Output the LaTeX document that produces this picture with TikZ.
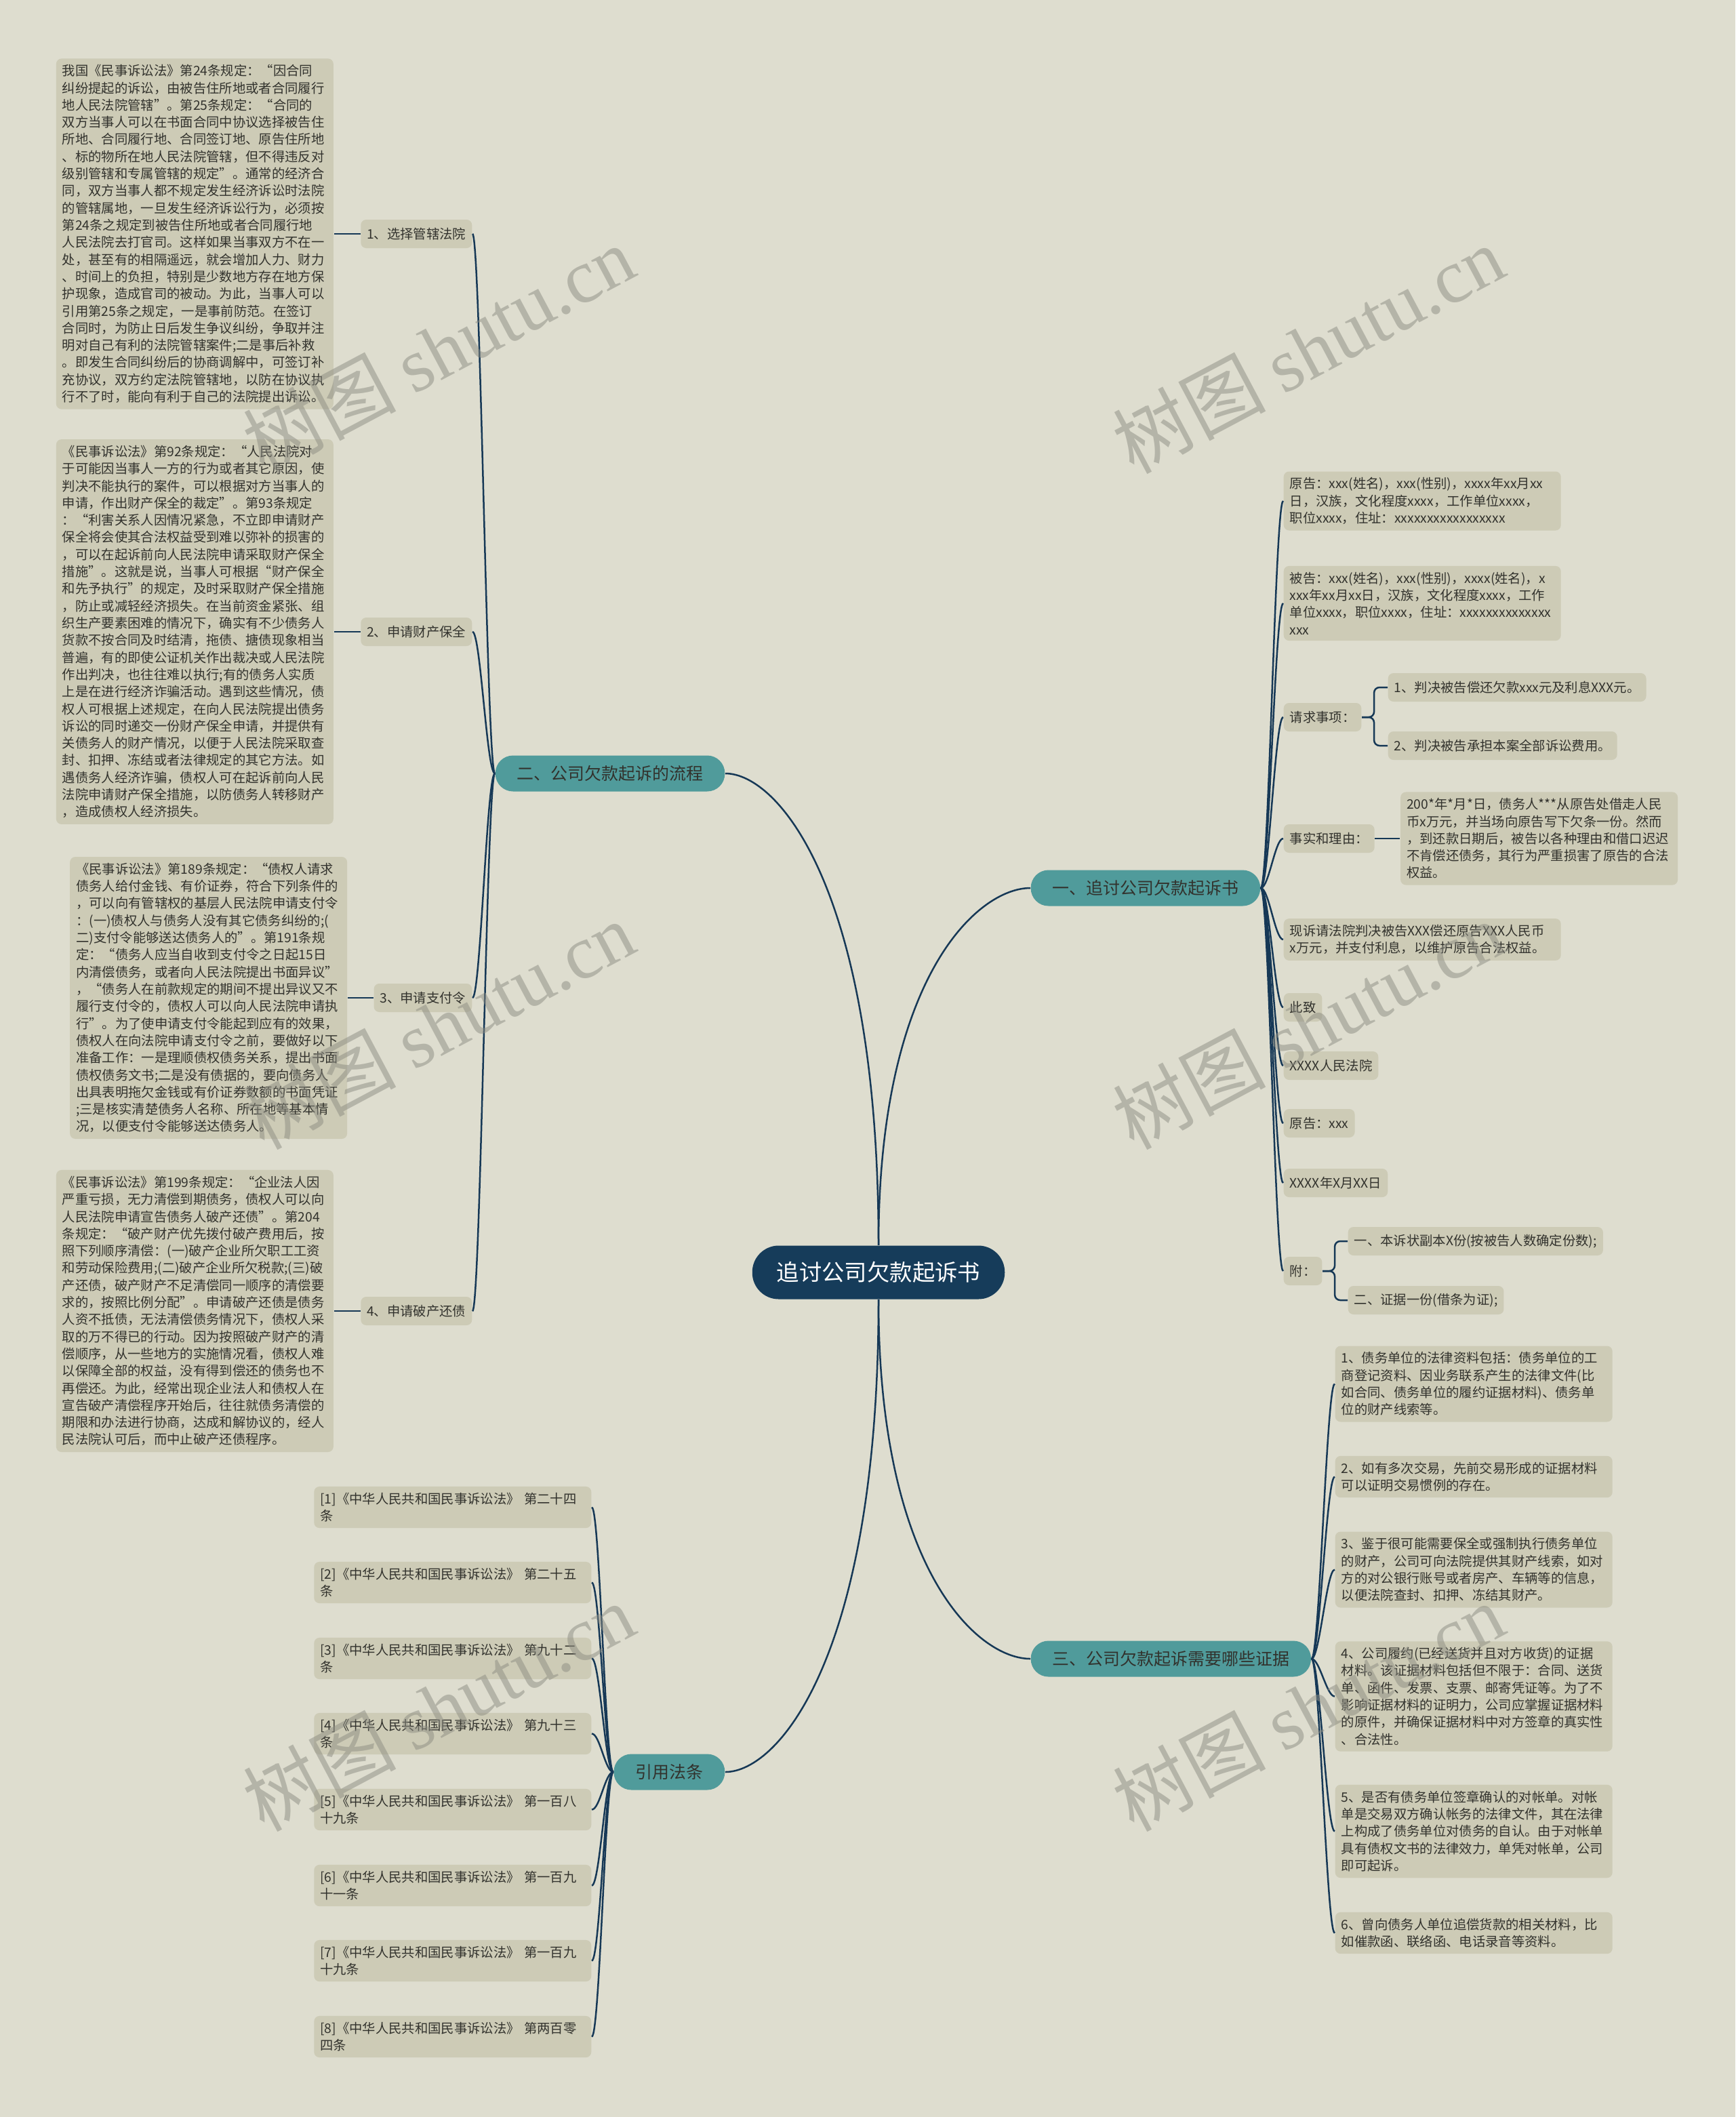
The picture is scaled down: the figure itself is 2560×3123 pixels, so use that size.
\documentclass[tikz,border=0pt]{standalone}
\usepackage{fontspec}
\setmainfont{Noto Sans CJK SC}
\newfontfamily\wmlatin{Liberation Serif}
\usetikzlibrary{positioning}

\definecolor{bgc}{RGB}{222,221,207}
\definecolor{leafc}{RGB}{205,203,182}
\definecolor{tealc}{RGB}{80,155,155}
\definecolor{rootc}{RGB}{22,60,90}
\definecolor{linec}{RGB}{22,56,86}
\definecolor{txtc}{RGB}{50,50,45}
\definecolor{wmc}{RGB}{140,140,130}

\newcommand{\leaffont}{\fontsize{5.5pt}{7.2pt}\selectfont}
\newcommand{\branchfont}{\fontsize{7.1pt}{8.5pt}\selectfont}
\newcommand{\rootfont}{\fontsize{9.5pt}{11pt}\selectfont}
\newcommand{\wmfont}{\fontsize{32pt}{34pt}\selectfont}

\begin{document}
\begin{tikzpicture}[x=0.1mm, y=-0.1mm,
    conn/.style={draw=linec, line width=0.25mm},
    rcurve/.style={conn, to path={.. controls +(12,0) and +(-12,0) .. (\tikztotarget)}},
    lcurve/.style={conn, to path={.. controls +(-12,0) and +(12,0) .. (\tikztotarget)}},
    forkline/.style={conn, rounded corners=0.8mm, to path={-- ++(18,0) |- (\tikztotarget)}},
    leafbox/.style={rectangle, rounded corners=0.8mm, fill=leafc, text=txtc, font=\leaffont,
      align=left, inner xsep=0.9mm, inner ysep=0.9mm, minimum height=4.2mm},
    widebox/.style={leafbox, text width=39.1mm},
    branchbox/.style={rectangle, rounded corners=2.6mm, fill=tealc, text=txtc, font=\branchfont,
      inner xsep=3.2mm, minimum height=5.3mm},
    mainbox/.style={rectangle, rounded corners=3.9mm, fill=rootc, text=white, font=\rootfont,
      inner xsep=3.6mm, minimum height=7.9mm},
    wmark/.style={font=\wmfont, text=wmc, opacity=0.5, rotate=28}]

  \fill[bgc] (0,0) rectangle (2560,3123);
  \useasboundingbox (0,0) rectangle (2560,3123);

  \node[mainbox] (root) at (1296,1877) {追讨公司欠款起诉书};
  \node[branchbox, anchor=west] (b1) at (1520,1310) {一、追讨公司欠款起诉书};
  \node[branchbox, anchor=east] (b2) at (1070,1141) {二、公司欠款起诉的流程};
  \node[branchbox, anchor=west] (b3) at (1520,2447) {三、公司欠款起诉需要哪些证据};
  \node[branchbox, anchor=east] (b4) at (1070,2614) {引用法条};

  \draw[conn] (root.north) .. controls +(0,-395) and +(-78,0) .. (b1.west);
  \draw[conn] (root.north) .. controls +(0,-522) and +(79,0) .. (b2.east);
  \draw[conn] (root.south) .. controls +(0,398) and +(-78,0) .. (b3.west);
  \draw[conn] (root.south) .. controls +(0,524) and +(79,0) .. (b4.east);

  \node[widebox, anchor=west] (yg1) at (1893,739) {原告：xxx(姓名)，xxx(性别)，xxxx年xx月xx\\日，汉族，文化程度xxxx，工作单位xxxx，\\职位xxxx，住址：xxxxxxxxxxxxxxxxx};
  \node[widebox, anchor=west] (bg) at (1893,890) {被告：xxx(姓名)，xxx(性别)，xxxx(姓名)，x\\xxx年xx月xx日，汉族，文化程度xxxx，工作\\单位xxxx，职位xxxx，住址：xxxxxxxxxxxxxx\\xxx};
  \node[leafbox, anchor=west] (qq) at (1893,1058) {请求事项：};
  \node[leafbox, anchor=west] (q1) at (2047,1014) {1、判决被告偿还欠款xxx元及利息XXX元。};
  \node[leafbox, anchor=west] (q2) at (2047,1100) {2、判决被告承担本案全部诉讼费用。};
  \node[leafbox, anchor=west] (ss) at (1893,1237) {事实和理由：};
  \node[widebox, right=3.7mm of ss] (s1) {200*年*月*日，债务人***从原告处借走人民\\币x万元，并当场向原告写下欠条一份。然而\\，到还款日期后，被告以各种理由和借口迟迟\\不肯偿还债务，其行为严重损害了原告的合法\\权益。};
  \node[widebox, anchor=west] (xs) at (1893,1386) {现诉请法院判决被告XXX偿还原告XXX人民币\\x万元，并支付利息，以维护原告合法权益。};
  \node[leafbox, anchor=west] (cz) at (1893,1486) {此致};
  \node[leafbox, anchor=west] (fy) at (1893,1572) {XXXX人民法院};
  \node[leafbox, anchor=west] (yg2) at (1893,1657) {原告：xxx};
  \node[leafbox, anchor=west] (rq) at (1893,1745) {XXXX年X月XX日};
  \node[leafbox, anchor=west] (fu) at (1893,1875) {附：};
  \node[leafbox, anchor=west] (f1) at (1988,1831) {一、本诉状副本X份(按被告人数确定份数);};
  \node[leafbox, anchor=west] (f2) at (1988,1918) {二、证据一份(借条为证);};

  \path (b1.east) edge[rcurve] (yg1.west) (b1.east) edge[rcurve] (bg.west)
        (b1.east) edge[rcurve] (qq.west) (b1.east) edge[rcurve] (ss.west)
        (b1.east) edge[rcurve] (xs.west) (b1.east) edge[rcurve] (cz.west)
        (b1.east) edge[rcurve] (fy.west) (b1.east) edge[rcurve] (yg2.west)
        (b1.east) edge[rcurve] (rq.west) (b1.east) edge[rcurve] (fu.west);
  \path (qq.east) edge[forkline] (q1.west) (qq.east) edge[forkline] (q2.west)
        (fu.east) edge[forkline] (f1.west) (fu.east) edge[forkline] (f2.west)
        (ss.east) edge[conn] (s1.west);

  \node[widebox, anchor=west] (e1) at (1969,2041.5) {1、债务单位的法律资料包括：债务单位的工\\商登记资料、因业务联系产生的法律文件(比\\如合同、债务单位的履约证据材料)、债务单\\位的财产线索等。};
  \node[widebox, anchor=west] (e2) at (1969,2178.5) {2、如有多次交易，先前交易形成的证据材料\\可以证明交易惯例的存在。};
  \node[widebox, anchor=west] (e3) at (1969,2315.5) {3、鉴于很可能需要保全或强制执行债务单位\\的财产，公司可向法院提供其财产线索，如对\\方的对公银行账号或者房产、车辆等的信息，\\以便法院查封、扣押、冻结其财产。};
  \node[widebox, anchor=west] (e4) at (1969,2502.5) {4、公司履约(已经送货并且对方收货)的证据\\材料。该证据材料包括但不限于：合同、送货\\单、函件、发票、支票、邮寄凭证等。为了不\\影响证据材料的证明力，公司应掌握证据材料\\的原件，并确保证据材料中对方签章的真实性\\、合法性。};
  \node[widebox, anchor=west] (e5) at (1969,2701.5) {5、是否有债务单位签章确认的对帐单。对帐\\单是交易双方确认帐务的法律文件，其在法律\\上构成了债务单位对债务的自认。由于对帐单\\具有债权文书的法律效力，单凭对帐单，公司\\即可起诉。};
  \node[widebox, anchor=west] (e6) at (1969,2851.5) {6、曾向债务人单位追偿货款的相关材料，比\\如催款函、联络函、电话录音等资料。};

  \path (b3.east) edge[rcurve] (e1.west) (b3.east) edge[rcurve] (e2.west)
        (b3.east) edge[rcurve] (e3.west) (b3.east) edge[rcurve] (e4.west)
        (b3.east) edge[rcurve] (e5.west) (b3.east) edge[rcurve] (e6.west);

  \node[leafbox, anchor=east] (n1) at (697,345) {1、选择管辖法院};
  \node[leafbox, anchor=east] (n2) at (697,932) {2、申请财产保全};
  \node[leafbox, anchor=east] (n3) at (697,1472) {3、申请支付令};
  \node[leafbox, anchor=east] (n4) at (697,1934) {4、申请破产还债};

  \node[widebox, left=3.9mm of n1] (blkA) {我国《民事诉讼法》第24条规定：“因合同\\纠纷提起的诉讼，由被告住所地或者合同履行\\地人民法院管辖”。第25条规定：“合同的\\双方当事人可以在书面合同中协议选择被告住\\所地、合同履行地、合同签订地、原告住所地\\、标的物所在地人民法院管辖，但不得违反对\\级别管辖和专属管辖的规定”。通常的经济合\\同，双方当事人都不规定发生经济诉讼时法院\\的管辖属地，一旦发生经济诉讼行为，必须按\\第24条之规定到被告住所地或者合同履行地\\人民法院去打官司。这样如果当事双方不在一\\处，甚至有的相隔遥远，就会增加人力、财力\\、时间上的负担，特别是少数地方存在地方保\\护现象，造成官司的被动。为此，当事人可以\\引用第25条之规定，一是事前防范。在签订\\合同时，为防止日后发生争议纠纷，争取并注\\明对自己有利的法院管辖案件;二是事后补救\\。即发生合同纠纷后的协商调解中，可签订补\\充协议，双方约定法院管辖地，以防在协议执\\行不了时，能向有利于自己的法院提出诉讼。};
  \node[widebox, left=3.9mm of n2] (blkB) {《民事诉讼法》第92条规定：“人民法院对\\于可能因当事人一方的行为或者其它原因，使\\判决不能执行的案件，可以根据对方当事人的\\申请，作出财产保全的裁定”。第93条规定\\：“利害关系人因情况紧急，不立即申请财产\\保全将会使其合法权益受到难以弥补的损害的\\，可以在起诉前向人民法院申请采取财产保全\\措施”。这就是说，当事人可根据“财产保全\\和先予执行”的规定，及时采取财产保全措施\\，防止或减轻经济损失。在当前资金紧张、组\\织生产要素困难的情况下，确实有不少债务人\\货款不按合同及时结清，拖债、搪债现象相当\\普遍，有的即使公证机关作出裁决或人民法院\\作出判决，也往往难以执行;有的债务人实质\\上是在进行经济诈骗活动。遇到这些情况，债\\权人可根据上述规定，在向人民法院提出债务\\诉讼的同时递交一份财产保全申请，并提供有\\关债务人的财产情况，以便于人民法院采取查\\封、扣押、冻结或者法律规定的其它方法。如\\遇债务人经济诈骗，债权人可在起诉前向人民\\法院申请财产保全措施，以防债务人转移财产\\，造成债权人经济损失。};
  \node[widebox, left=3.8mm of n3] (blkC) {《民事诉讼法》第189条规定：“债权人请求\\债务人给付金钱、有价证券，符合下列条件的\\，可以向有管辖权的基层人民法院申请支付令\\：(一)债权人与债务人没有其它债务纠纷的;(\\二)支付令能够送达债务人的”。第191条规\\定：“债务人应当自收到支付令之日起15日\\内清偿债务，或者向人民法院提出书面异议”\\，“债务人在前款规定的期间不提出异议又不\\履行支付令的，债权人可以向人民法院申请执\\行”。为了使申请支付令能起到应有的效果，\\债权人在向法院申请支付令之前，要做好以下\\准备工作：一是理顺债权债务关系，提出书面\\债权债务文书;二是没有债据的，要向债务人\\出具表明拖欠金钱或有价证券数额的书面凭证\\;三是核实清楚债务人名称、所在地等基本情\\况，以便支付令能够送达债务人。};
  \node[widebox, left=3.9mm of n4] (blkD) {《民事诉讼法》第199条规定：“企业法人因\\严重亏损，无力清偿到期债务，债权人可以向\\人民法院申请宣告债务人破产还债”。第204\\条规定：“破产财产优先拨付破产费用后，按\\照下列顺序清偿：(一)破产企业所欠职工工资\\和劳动保险费用;(二)破产企业所欠税款;(三)破\\产还债，破产财产不足清偿同一顺序的清偿要\\求的，按照比例分配”。申请破产还债是债务\\人资不抵债，无法清偿债务情况下，债权人采\\取的万不得已的行动。因为按照破产财产的清\\偿顺序，从一些地方的实施情况看，债权人难\\以保障全部的权益，没有得到偿还的债务也不\\再偿还。为此，经常出现企业法人和债权人在\\宣告破产清偿程序开始后，往往就债务清偿的\\期限和办法进行协商，达成和解协议的，经人\\民法院认可后，而中止破产还债程序。};

  \path (b2.west) edge[lcurve] (n1.east) (b2.west) edge[lcurve] (n2.east)
        (b2.west) edge[lcurve] (n3.east) (b2.west) edge[lcurve] (n4.east);
  \path (n1) edge[conn] (blkA) (n2) edge[conn] (blkB)
        (n3) edge[conn] (blkC) (n4) edge[conn] (blkD);

  \node[widebox, anchor=east] (r1) at (873,2223.5) {[1]《中华人民共和国民事诉讼法》~第二十四\\条};
  \node[widebox, anchor=east] (r2) at (873,2334.5) {[2]《中华人民共和国民事诉讼法》~第二十五\\条};
  \node[widebox, anchor=east] (r3) at (873,2446.5) {[3]《中华人民共和国民事诉讼法》~第九十二\\条};
  \node[widebox, anchor=east] (r4) at (873,2557.5) {[4]《中华人民共和国民事诉讼法》~第九十三\\条};
  \node[widebox, anchor=east] (r5) at (873,2669.5) {[5]《中华人民共和国民事诉讼法》~第一百八\\十九条};
  \node[widebox, anchor=east] (r6) at (873,2781.5) {[6]《中华人民共和国民事诉讼法》~第一百九\\十一条};
  \node[widebox, anchor=east] (r7) at (873,2892.5) {[7]《中华人民共和国民事诉讼法》~第一百九\\十九条};
  \node[widebox, anchor=east] (r8) at (873,3004.5) {[8]《中华人民共和国民事诉讼法》~第两百零\\四条};

  \path (b4.west) edge[lcurve] (r1.east) (b4.west) edge[lcurve] (r2.east)
        (b4.west) edge[lcurve] (r3.east) (b4.west) edge[lcurve] (r4.east)
        (b4.west) edge[lcurve] (r5.east) (b4.west) edge[lcurve] (r6.east)
        (b4.west) edge[lcurve] (r7.east) (b4.west) edge[lcurve] (r8.east);

  \node[wmark] (wm1) at (647,515) {树图 {\wmlatin shutu.cn}};
  \node[wmark] (wm2) at (1930,515) {树图 {\wmlatin shutu.cn}};
  \node[wmark] (wm3) at (647,1512) {树图 {\wmlatin shutu.cn}};
  \node[wmark] (wm4) at (1930,1512) {树图 {\wmlatin shutu.cn}};
  \node[wmark] (wm5) at (647,2518) {树图 {\wmlatin shutu.cn}};
  \node[wmark] (wm6) at (1930,2518) {树图 {\wmlatin shutu.cn}};
\end{tikzpicture}
\end{document}
